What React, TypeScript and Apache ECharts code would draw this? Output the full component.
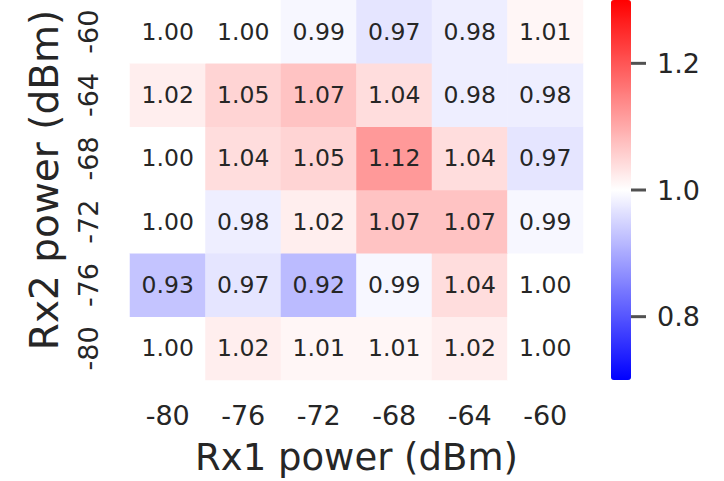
import React, { useEffect, useRef } from "react";
import * as echarts from "echarts";

// Rx1 along the bottom, Rx2 up the side (listed bottom to top)
const rx1Levels = ["-80", "-76", "-72", "-68", "-64", "-60"];
const rx2Levels = ["-80", "-76", "-72", "-68", "-64", "-60"];

// Normalised ratio per cell; one row per Rx2 level, bottom (-80) to top (-60)
const rowRx2m80 = [1.0, 1.02, 1.01, 1.01, 1.02, 1.0];
const rowRx2m76 = [0.93, 0.97, 0.92, 0.99, 1.04, 1.0];
const rowRx2m72 = [1.0, 0.98, 1.02, 1.07, 1.07, 0.99];
const rowRx2m68 = [1.0, 1.04, 1.05, 1.12, 1.04, 0.97];
const rowRx2m64 = [1.02, 1.05, 1.07, 1.04, 0.98, 0.98];
const rowRx2m60 = [1.0, 1.0, 0.99, 0.97, 0.98, 1.01];

const colorbarMin = 0.7;
const colorbarMax = 1.3;
const colorbarTicks = [0.8, 1.0, 1.2];

const FONT = "DejaVu Sans";
const INK = "#262626";
const TICK_LEN = 15;

export default function App() {
  const ref = useRef<HTMLDivElement>(null);

  useEffect(() => {
    if (!ref.current) return;
    const chart = echarts.init(ref.current, null, { renderer: "svg" });

    const rows = [rowRx2m80, rowRx2m76, rowRx2m72, rowRx2m68, rowRx2m64, rowRx2m60];
    const cells: [number, number, number][] = [];
    rows.forEach((row, yi) => row.forEach((v, xi) => cells.push([xi, yi, v])));

    chart.setOption({
      animation: false,
      textStyle: { fontFamily: FONT },
      grid: [
        { left: 130, top: 0, width: 453, height: 380 },
        { left: 611, top: 0, width: 20, height: 380 },
      ],
      xAxis: [
        {
          gridIndex: 0,
          type: "category",
          data: rx1Levels,
          axisLine: { show: false },
          axisTick: { show: false },
          splitLine: { show: false },
          axisLabel: { fontSize: 27, color: INK, margin: 22, fontFamily: FONT },
          name: "Rx1 power (dBm)",
          nameLocation: "middle",
          nameGap: 59,
          nameTextStyle: { fontSize: 37, color: INK, fontFamily: FONT },
        },
        { gridIndex: 1, type: "value", show: false, min: 0, max: 1 },
      ],
      yAxis: [
        {
          gridIndex: 0,
          type: "category",
          data: rx2Levels,
          axisLine: { show: false },
          axisTick: { show: false },
          splitLine: { show: false },
          axisLabel: { fontSize: 27, color: INK, margin: 28, rotate: 90, fontFamily: FONT },
          name: "Rx2 power (dBm)",
          nameLocation: "middle",
          nameGap: 66,
          nameTextStyle: {
            fontSize: 39,
            color: INK,
            fontFamily: FONT,
            padding: [0, 0, 0, 20],
          },
        },
        {
          gridIndex: 1,
          type: "value",
          position: "right",
          min: colorbarMin,
          max: colorbarMax,
          axisLine: { show: false },
          splitLine: { show: false },
          axisTick: { show: false },
          axisLabel: {
            fontSize: 27,
            color: INK,
            margin: 26,
            fontFamily: FONT,
            customValues: colorbarTicks,
            formatter: (v: number) => v.toFixed(1),
          },
        },
      ],
      visualMap: {
        type: "continuous",
        seriesIndex: 0,
        min: colorbarMin,
        max: colorbarMax,
        calculable: false,
        orient: "vertical",
        left: 611,
        top: 0,
        padding: 0,
        itemWidth: 20,
        itemHeight: 380,
        text: ["", ""],
        inRange: { color: ["#0000ff", "#ffffff", "#ff0000"] },
      },
      series: [
        {
          type: "heatmap",
          xAxisIndex: 0,
          yAxisIndex: 0,
          data: cells,
          label: {
            show: true,
            fontSize: 23.5,
            color: INK,
            fontFamily: FONT,
            formatter: (p: any) => (p.value[2] as number).toFixed(2),
          },
          itemStyle: { borderWidth: 0 },
          emphasis: { disabled: true },
        },
        {
          // colorbar tick marks, sitting on the bar's right edge
          type: "scatter",
          xAxisIndex: 1,
          yAxisIndex: 1,
          clip: false,
          silent: true,
          data: colorbarTicks.map((v) => [1, v]),
          symbol: "rect",
          symbolSize: [TICK_LEN, 3],
          symbolOffset: [TICK_LEN / 2, 0],
          itemStyle: { color: INK },
        },
      ],
    });

    return () => chart.dispose();
  }, []);

  return (
    <div
      ref={ref}
      style={{ position: "fixed", left: 0, top: 0, width: 724, height: 481, background: "#fff" }}
    />
  );
}
